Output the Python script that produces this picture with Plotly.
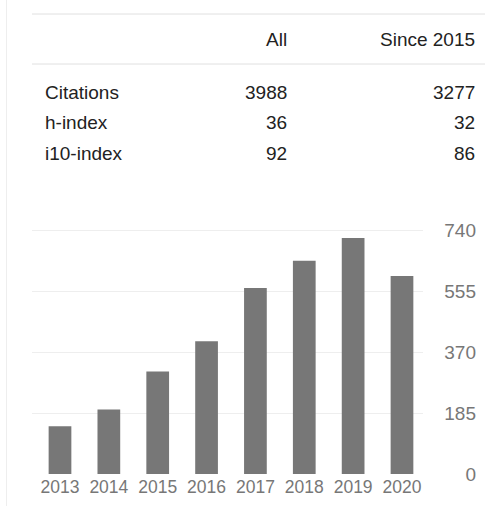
import plotly.graph_objects as go

# ---- data ----
years = ["2013", "2014", "2015", "2016", "2017", "2018", "2019", "2020"]
citations = [145, 196, 311, 403, 565, 648, 717, 601]
y_ticks = [0, 185, 370, 555, 740]

row_labels = ["Citations", "h-index", "i10-index"]
col_headers = ["All", "Since 2015"]
all_values = ["3988", "36", "92"]
since_values = ["3277", "32", "86"]

W, H = 485, 506
FONT = "Arial, 'Liberation Sans', sans-serif"

def px(x):
    return x / W

def py(y):
    return 1 - y / H

fig = go.Figure()
fig.add_trace(go.Bar(
    x=list(range(len(years))), y=citations,
    marker=dict(color="#777777", line=dict(width=0)),
    width=0.465, hoverinfo="x+y",
))

fig.update_layout(
    template="none",
    width=W, height=H, autosize=False,
    margin=dict(l=0, r=0, t=0, b=0, pad=0),
    paper_bgcolor="white", plot_bgcolor="white",
    showlegend=False,
    font=dict(family=FONT, color="#222222"),
    xaxis=dict(
        domain=[px(32), px(422.7)],
        range=[-0.573, 7.424],
        tickmode="array", tickvals=list(range(len(years))), ticktext=years,
        tickfont=dict(size=17.5, color="#777777", family=FONT),
        showgrid=False, zeroline=False, showline=False, ticks="",
        ticklabelstandoff=0, automargin=False,
        fixedrange=True,
    ),
    yaxis=dict(
        domain=[1 - 474 / H, 1 - 210.6 / H],
        range=[0, 800],
        tickmode="array", tickvals=y_ticks,
        side="right", anchor="free", position=px(479),
        ticklabelposition="inside", ticklabeloverflow="allow",
        tickfont=dict(size=19, color="#777777", family=FONT),
        showgrid=True, gridcolor="#eeeeee", gridwidth=1,
        zeroline=False, showline=False, ticks="", automargin=False,
        fixedrange=True,
    ),
)

shapes = []
shapes.append(dict(type="line", xref="paper", yref="paper",
                   x0=px(6.5), x1=px(6.5), y0=0, y1=1,
                   line=dict(color="#eeeeee", width=1)))
for yy in (14, 64):
    shapes.append(dict(type="line", xref="paper", yref="paper",
                       x0=px(32), x1=1, y0=py(yy), y1=py(yy),
                       line=dict(color="#e0e0e0", width=1)))
fig.update_layout(shapes=shapes)

ann = []
for txt, xr in zip(col_headers, (289, 477)):
    ann.append(dict(text=txt, xref="paper", yref="paper", x=px(xr), y=py(39),
                    xanchor="right", yanchor="middle", showarrow=False,
                    font=dict(size=19, color="#222222", family=FONT)))
row_y = [92, 122.5, 153]
for lab, a, s, yy in zip(row_labels, all_values, since_values, row_y):
    ann.append(dict(text=lab, xref="paper", yref="paper", x=px(43), y=py(yy),
                    xanchor="left", yanchor="middle", showarrow=False,
                    font=dict(size=19, color="#222222", family=FONT)))
    ann.append(dict(text=a, xref="paper", yref="paper", x=px(289), y=py(yy),
                    xanchor="right", yanchor="middle", showarrow=False,
                    font=dict(size=19, color="#222222", family=FONT)))
    ann.append(dict(text=s, xref="paper", yref="paper", x=px(477), y=py(yy),
                    xanchor="right", yanchor="middle", showarrow=False,
                    font=dict(size=19, color="#222222", family=FONT)))
fig.update_layout(annotations=ann)

fig.write_html(
    "out.html",
    config=dict(displayModeBar=False),
    post_script="document.body.style.margin='0';document.body.style.overflow='hidden';",
)
